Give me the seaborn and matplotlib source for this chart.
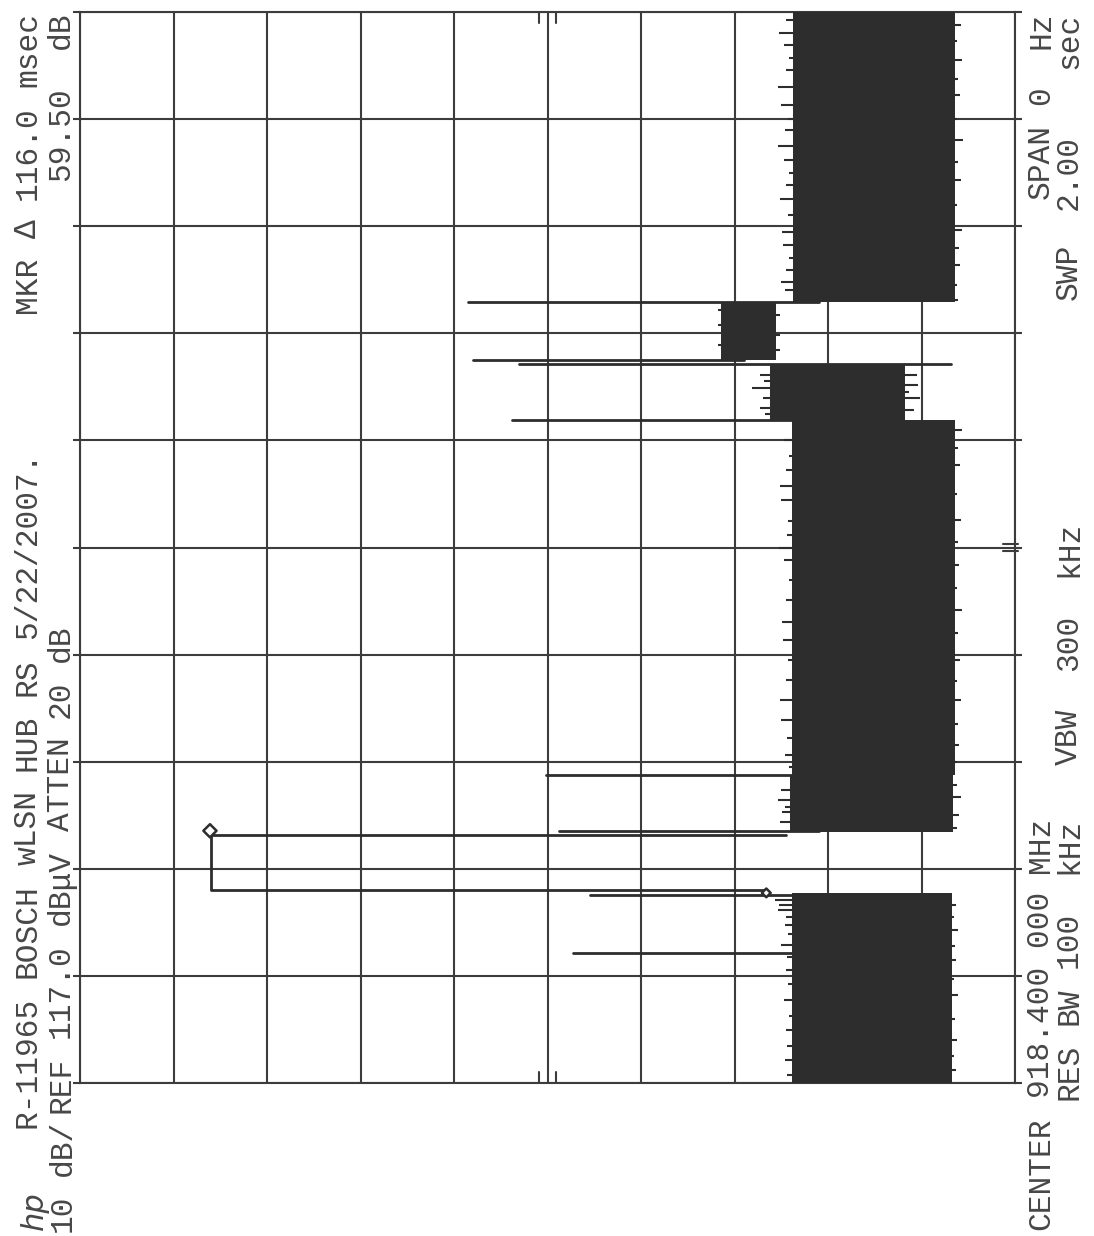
import numpy as np
import matplotlib
matplotlib.use("Agg")
import matplotlib.pyplot as plt
import seaborn as sns

# Analyzer settings (zero span sweep)
ref_level = 117.0          # dBuV, top of screen
db_per_div = 10.0
n_div = 10
sweep_ms = 2000.0
center_mhz = "918.400 000"
res_bw_khz = 100
vbw_khz = 300
atten_db = 20

# Noise-floor segments of the trace: time span (ms) and level band (dBuV)
seg_start = [0, 469, 575, 1238, 1350, 1458]
seg_end = [355, 575, 1238, 1343, 1458, 2000]
seg_high = [40.8, 41.1, 40.8, 43.2, 48.4, 40.7]
seg_low = [23.7, 23.6, 23.4, 28.8, 42.6, 23.4]

# Ragged excursions at the edges of the noise band
whisk_t = [1985, 1960, 1938, 1915, 1892, 1860, 1826, 1800, 1780, 1750, 1724,
           1700, 1677, 1650, 1621, 1590, 1565, 1540, 1518, 1495, 1481,
           1976, 1945, 1910, 1875, 1845, 1800, 1761, 1720, 1686, 1640, 1593,
           1560, 1528, 1490, 1462,
           1444, 1415, 1378, 1434, 1397, 1369,
           1322, 1310, 1298, 1279, 1260, 1250, 1322, 1303, 1290, 1279, 1257,
           1201, 1170, 1145, 1115, 1089, 1050, 1023, 1000, 977, 940, 902, 860,
           827, 790, 753, 715, 678, 645, 613, 590,
           1219, 1185, 1154, 1100, 1051, 1010, 967, 925, 883, 840, 790, 750,
           715, 670, 631, 600,
           547, 528, 515, 506, 487, 556, 534, 500, 476,
           342, 333, 323, 310, 295, 278, 258, 235, 211, 185, 155, 125, 99, 70,
           43, 15,
           332, 310, 286, 255, 230, 195, 164, 120, 80, 50, 24]
whisk_level = [41.5, 42.2, 41.7, 41.2, 41.5, 42.4, 42.0, 41.3, 41.6, 42.3, 41.7,
               41.2, 41.5, 42.1, 41.3, 41.9, 41.8, 41.2, 41.5, 42.0, 41.6,
               22.8, 23.2, 22.7, 23.1, 22.9, 23.2, 22.6, 23.1, 22.8, 23.2, 22.7,
               23.0, 22.9, 23.2, 23.1,
               48.8, 48.8, 48.8, 42.1, 42.1, 42.1,
               44.3, 43.8, 45.1, 44.0, 44.3, 43.7, 27.5, 27.4, 28.3, 27.2, 27.8,
               41.7, 41.2, 41.5, 42.1, 42.0, 41.3, 41.4, 42.2, 41.7, 41.2, 41.5,
               41.9, 41.8, 41.3, 41.5, 42.1, 42.0, 41.4, 41.6, 41.2,
               22.7, 23.1, 22.9, 23.2, 22.8, 23.1, 23.0, 23.2, 22.7, 23.1, 22.9,
               23.2, 22.8, 23.1, 23.0, 23.2,
               42.0, 42.3, 41.6, 41.9, 42.1, 23.2, 22.8, 23.0, 23.2,
               42.7, 42.2, 42.3, 41.5, 41.6, 41.3, 42.0, 41.4, 41.5, 41.3, 41.7,
               41.2, 41.5, 41.4, 41.6, 41.4,
               23.3, 23.5, 23.1, 23.4, 23.3, 23.5, 23.1, 23.4, 23.2, 23.5, 23.3]

# Isolated spikes: time (ms), peak level and the level the trace returns to
spike_t = [243, 351, 471, 575, 1238, 1343, 1350, 1458]
spike_peak = [64.3, 62.5, 65.8, 67.2, 70.8, 70.0, 75.0, 75.5]
spike_base = [38.0, 38.0, 38.0, 38.0, 38.0, 23.8, 46.0, 38.0]

# Strong burst
burst_on, burst_off = 360, 463
burst_level = 103.0
burst_floor_on, burst_floor_off = 43.7, 41.5

# Markers: reference marker and delta readout
mkr_ref_t, mkr_ref_level = 355.0, 43.6
mkr_dt, mkr_ddb = 116.0, 59.50

ink = "#2d2d2d"
grid_ink = "#3c3c3c"
text_ink = "#474747"

sns.set_style("white")
plt.rcParams["font.family"] = ["Liberation Mono", "DejaVu Sans Mono"]

W, H = 1094, 1236
fig = plt.figure(figsize=(W / 100, H / 100), dpi=100)
ax = fig.add_axes([80 / W, (H - 1083) / H, (1015 - 80) / W, (1083 - 12) / H])

bottom = ref_level - n_div * db_per_div
ax.set_xlim(ref_level, bottom)
ax.set_ylim(0, sweep_ms)
ax.set_xticks(np.linspace(bottom, ref_level, n_div + 1))
ax.set_yticks(np.linspace(0, sweep_ms, n_div + 1))
ax.set_xticklabels([])
ax.set_yticklabels([])
ax.grid(True, color=grid_ink, lw=1.5)
ax.tick_params(axis="y", which="both", left=True, right=True, direction="out",
               length=5, width=1.5, color=grid_ink)
ax.tick_params(axis="x", which="both", bottom=False, top=False)
for s in ax.spines.values():
    s.set_color(grid_ink)
    s.set_linewidth(1.5)
ax.set_axisbelow(True)

# Noise band
for t0, t1, hi, lo in zip(seg_start, seg_end, seg_high, seg_low):
    ax.fill_betweenx([t0, t1], lo, hi, color=ink, lw=0, zorder=3)

# Edge excursions: drawn from the band middle out to the reading
seg_start_a = np.array(seg_start)
for t, lev in zip(whisk_t, whisk_level):
    i = np.searchsorted(seg_start_a, t, side="right") - 1
    mid = 0.5 * (seg_high[i] + seg_low[i])
    ax.plot([mid, lev], [t, t], color=ink, lw=1.5, solid_capstyle="butt", zorder=3)

# Spikes
for t, pk, base in zip(spike_t, spike_peak, spike_base):
    ax.plot([pk, base], [t, t], color=ink, lw=2.0, zorder=4)

# Burst trace
burst = {
    "level": [burst_floor_on, burst_level, burst_level, burst_floor_off],
    "time": [burst_on, burst_on, burst_off, burst_off],
}
sns.lineplot(data=burst, x="level", y="time", sort=False, estimator=None,
             color=ink, lw=2.0, ax=ax, zorder=4)

# Markers
mk = {"level": [mkr_ref_level, mkr_ref_level + mkr_ddb],
      "time": [mkr_ref_t, mkr_ref_t + mkr_dt]}
sns.scatterplot(data=mk, x="level", y="time", marker="D", s=[20, 45],
                facecolor="white", edgecolor=ink, linewidth=1.8, ax=ax, zorder=5)
ax.set_xlabel("")
ax.set_ylabel("")

# Graticule centre marks
for xc in (0.5 - 0.009, 0.5 + 0.009):
    ax.plot([xc, xc], [1.0, 0.99], transform=ax.transAxes, color=grid_ink, lw=1.5)
    ax.plot([xc, xc], [0.0, 0.01], transform=ax.transAxes, color=grid_ink, lw=1.5)
for yc in (0.5 - 0.003, 0.5 + 0.003):
    ax.plot([0.987, 1.003], [yc, yc], transform=ax.transAxes, color=grid_ink,
            lw=1.5, clip_on=False)


def words(x, items, size=22.5, **kw):
    """Annotation fields read bottom-to-top; each item is (start_y_px, text)."""
    for y, s in items:
        fig.text(x / W, 1 - y / H, s, rotation=90, ha="center", va="bottom",
                 fontsize=size, color=text_ink, **kw)


words(28, [(1128, "R-11965"), (978, "BOSCH"), (865, "wLSN"), (771, "HUB"),
           (696, "RS"), (639, "5/22/2007."),
           (313, "MKR"), (238, "\u0394"), (200, f"{mkr_dt:.1f}"), (87, "msec")])
words(61, [(1113, "REF"), (1038, f"{ref_level:.1f}"), (925, "dB\u03bcV"),
           (831, "ATTEN"), (718, f"{atten_db}"), (662, "dB"),
           (181, f"{mkr_ddb:.2f}"), (49, "dB")])
words(63, [(1232, f"{db_per_div:.0f}"), (1176, "dB/")])
words(34, [(1230, "hp")], size=22, fontstyle="italic", family="DejaVu Sans")
words(1041, [(1230, "CENTER"), (1098, center_mhz), (873, "MHz"),
             (199, "SPAN"), (105, "0"), (49, "Hz")])
words(1069, [(1100, "RES"), (1025, "BW"), (968, f"{res_bw_khz}"), (874, "kHz"),
             (765, "VBW"), (671, f"{vbw_khz}"), (577, "kHz"),
             (300, "SWP"), (210, f"{sweep_ms / 1000:.2f}"), (69, "sec")])

fig.savefig("out.png", dpi=100, facecolor="white")
